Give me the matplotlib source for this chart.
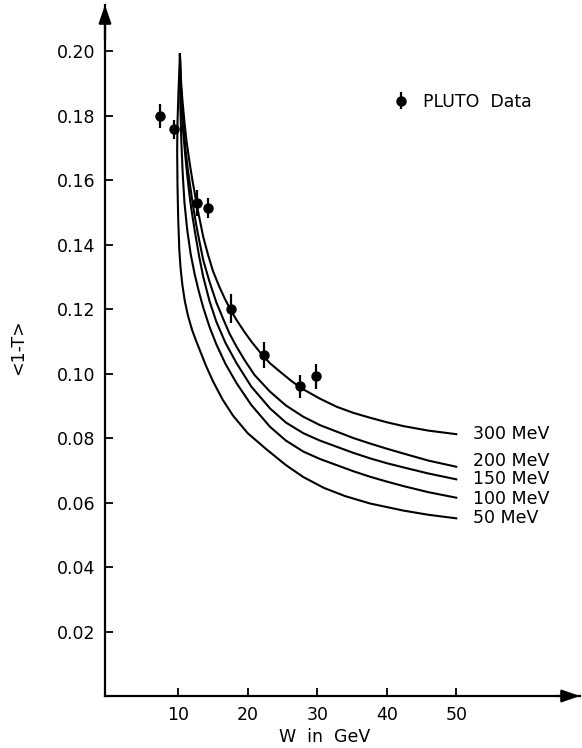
import numpy as np
import matplotlib
matplotlib.use('Agg')
import matplotlib.pyplot as plt

plt.rcParams['font.family'] = ['DejaVu Sans']

# PLUTO data points
w_data = [7.4, 9.45, 12.66, 14.3, 17.65, 22.4, 27.5, 29.8]
t_data = [0.180, 0.1757, 0.153, 0.1513, 0.1201, 0.1057, 0.0961, 0.0991]
t_err = [0.0037, 0.0030, 0.0040, 0.0030, 0.0045, 0.0040, 0.0036, 0.0040]

# model curves
w_50 = [10.25, 10.05, 9.9, 9.85, 9.9, 10.0, 10.16, 10.35, 10.6, 10.95, 11.4, 12.0, 12.6, 13.1,
        14.0, 15.05, 16.4, 17.9, 20.0, 22.7, 25.5, 28.0, 31.0, 34.0, 37.6, 42.4, 46.0, 50]
t_50 = [0.199, 0.188, 0.178, 0.169, 0.158, 0.148, 0.1383, 0.1325, 0.1275, 0.1225, 0.118, 0.1135, 0.110, 0.1073,
        0.1024, 0.0974, 0.0919, 0.0869, 0.0815, 0.0765, 0.0716, 0.0679, 0.0645, 0.0620, 0.0597, 0.0575, 0.0562, 0.0551]

w_100 = [10.25, 10.3, 10.45, 10.65, 10.9, 11.3, 11.8, 12.4, 13.0, 13.6, 14.5, 15.5, 16.8, 18.4,
         20.5, 23.2, 25.5, 28.0, 30.4, 32.8, 35.2, 37.6, 40.0, 42.4, 46.0, 50]
t_100 = [0.199, 0.184, 0.172, 0.162, 0.153, 0.1445, 0.137, 0.1305, 0.1252, 0.1205, 0.1145, 0.109, 0.1030, 0.0970,
         0.0903, 0.0835, 0.0792, 0.0758, 0.0735, 0.0716, 0.0697, 0.0680, 0.0665, 0.0651, 0.0632, 0.0615]

w_150 = [10.25, 10.3, 10.5, 10.7, 11.0, 11.3, 11.7, 12.0, 12.4, 13.0, 13.6, 14.5, 15.5, 16.8, 18.4,
         20.5, 23.2, 25.5, 28.0, 30.4, 32.8, 35.2, 37.6, 40.0, 42.4, 46.0, 50]
t_150 = [0.199, 0.193, 0.182, 0.1755, 0.168, 0.1615, 0.154, 0.1495, 0.144, 0.1365, 0.130, 0.1225, 0.116, 0.1095, 0.1032,
         0.0960, 0.0892, 0.0848, 0.0815, 0.0792, 0.0773, 0.0754, 0.0737, 0.0722, 0.0709, 0.0690, 0.0672]

w_200 = [10.25, 10.3, 10.5, 10.7, 11.0, 11.4, 11.8, 12.1, 12.6, 13.1, 13.6, 14.5, 15.5, 16.5, 17.4, 18.4,
         19.6, 21.0, 23.2, 25.5, 28.0, 30.4, 32.8, 35.2, 37.6, 40.0, 42.4, 46.0, 50]
t_200 = [0.199, 0.193, 0.184, 0.178, 0.1705, 0.163, 0.157, 0.1525, 0.146, 0.1405, 0.1352, 0.1285, 0.122, 0.1168, 0.1123, 0.1083,
         0.1040, 0.0995, 0.0944, 0.0901, 0.0866, 0.0840, 0.0820, 0.0800, 0.0783, 0.0767, 0.0752, 0.0730, 0.0711]

w_300 = [10.25, 10.4, 10.6, 10.9, 11.2, 11.6, 12.0, 12.7, 13.6, 14.3, 15.0, 15.9, 16.8, 17.6, 18.4,
         19.5, 20.5, 21.8, 23.2, 24.8, 26.4, 28.0, 30.4, 32.8, 35.2, 37.6, 40.0, 42.4, 46.0, 50]
t_300 = [0.199, 0.191, 0.185, 0.178, 0.172, 0.166, 0.1605, 0.152, 0.1424, 0.1368, 0.1318, 0.127, 0.1228, 0.1195, 0.1166,
         0.1130, 0.1100, 0.1065, 0.1032, 0.1003, 0.0975, 0.0951, 0.0922, 0.0897, 0.0878, 0.0863, 0.0849, 0.0837, 0.0823, 0.0812]

curve_names = ['300 MeV', '200 MeV', '150 MeV', '100 MeV', '50 MeV']
curve_w = [w_300, w_200, w_150, w_100, w_50]
curve_t = [t_300, t_200, t_150, t_100, t_50]
label_dy = [0, 6, 0, -1, 0]   # pixel nudges for the end labels

xticks = [10, 20, 30, 40, 50]
yticks = [0.02, 0.04, 0.06, 0.08, 0.10, 0.12, 0.14, 0.16, 0.18, 0.20]

fig = plt.figure(figsize=(5.82, 7.48), dpi=100)
ax = fig.add_axes([105/582, 52/748, 475/582, 691/748])

for name, w, t, dy in zip(curve_names, curve_w, curve_t, label_dy):
    ax.plot(w, t, color='black', lw=1.5, solid_joinstyle='round')
    ax.annotate(name, xy=(w[-1], t[-1]), xytext=(17, dy), textcoords='offset pixels',
                ha='left', va='center', fontsize=12.5)

ax.errorbar(w_data, t_data, yerr=t_err, fmt='o', color='black', ms=6.5, lw=1.6,
            capsize=0, label='PLUTO  Data')
ax.legend(loc='center left', bbox_to_anchor=(0.608, 0.86), frameon=False,
          borderpad=0, borderaxespad=0, handlelength=0.8, handletextpad=0.9,
          fontsize=12.5)

ax.set_xlim(-0.53, 67.8)
ax.set_ylim(0, 0.2143)
ax.set_xticks(xticks)
ax.set_yticks(yticks)
ax.set_yticklabels(['%.2f' % v for v in yticks])
ax.tick_params(direction='in', length=6, width=1.3, labelsize=12.5, pad=7)

for s in ['top', 'right']:
    ax.spines[s].set_visible(False)
for s in ['left', 'bottom']:
    ax.spines[s].set_linewidth(1.6)

arr = dict(arrowstyle='-|>,head_length=1.1,head_width=0.38', color='black', lw=1.6,
           mutation_scale=10, shrinkA=0, shrinkB=0)
ax.annotate('', xy=(1.0, 0), xytext=(0.95, 0), xycoords='axes fraction', arrowprops=arr)
ax.annotate('', xy=(0, 1.0), xytext=(0, 0.95), xycoords='axes fraction', arrowprops=arr)

fig.text(325/582, 1 - 737/748, 'W  in  GeV', ha='center', va='center', fontsize=12.5)
fig.text(18/582, 1 - 347/748, '<1-T>', rotation=90, ha='center', va='center', fontsize=12.5)

fig.savefig('out.png', dpi=100)
